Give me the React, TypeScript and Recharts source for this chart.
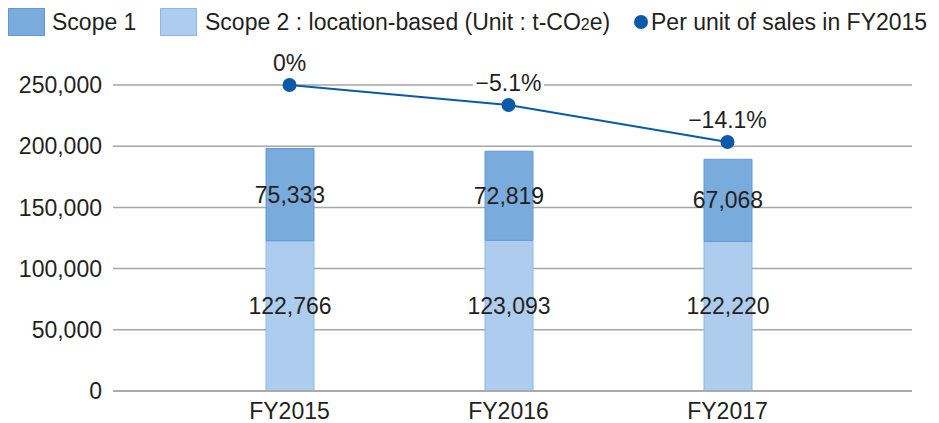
import React from 'react';
import { ComposedChart, Bar, Line, XAxis, YAxis, CartesianGrid, LabelList } from 'recharts';

const categories = ['FY2015', 'FY2016', 'FY2017'];
const scope1 = [75333, 72819, 67068];
const scope2 = [122766, 123093, 122220];
// plotted position of the per-unit line
const perUnit = [250000, 233600, 203400];
const perUnitLabels = ['0%', '−5.1%', '−14.1%'];
const yTicks = [0, 50000, 100000, 150000, 200000, 250000];

const data = categories.map((fy, i) => ({
  fy,
  scope1: scope1[i],
  scope2: scope2[i],
  perUnit: perUnit[i],
}));

const FONT = '"Liberation Sans", Arial, sans-serif';
const TEXT = '#231f20';
const fmt = (v: number) => v.toLocaleString('en-US');

const BarValue = (dy: number) => (props: any) => {
  const { x, y, width, height, value } = props;
  return (
    <text
      x={x + width / 2}
      y={y + height / 2 + dy}
      textAnchor="middle"
      dominantBaseline="central"
      fill={TEXT}
      fontSize={23}
      fontFamily={FONT}
    >
      {fmt(value)}
    </text>
  );
};

const LineValue = (props: any) => {
  const { x, y, index } = props;
  const text = perUnitLabels[index];
  const w = text.length * 13 + 6;
  return (
    <g>
      <rect x={x - w / 2} y={y - 37} width={w} height={28} fill="#fff" />
      <text x={x} y={y - 14} textAnchor="middle" fill={TEXT} fontSize={23} fontFamily={FONT}>
        {text}
      </text>
    </g>
  );
};

const swatch = (color: string, border: string): React.CSSProperties => ({
  position: 'absolute',
  top: 0,
  width: 37,
  height: 28,
  background: color,
  border: `1px solid ${border}`,
  boxSizing: 'border-box',
});

const legendText: React.CSSProperties = {
  position: 'absolute',
  top: 0,
  fontSize: 23,
  lineHeight: '28px',
  color: TEXT,
  fontFamily: FONT,
  whiteSpace: 'nowrap',
};

export default function App() {
  return (
    <div style={{ position: 'relative', width: 925, height: 415, fontFamily: FONT }}>
      <div style={swatch('#7aabdd', '#6598d3')} />
      <div style={{ ...legendText, left: 44 }}>Scope 1</div>
      <div style={{ ...swatch('#aecdee', '#8fb7e3'), left: 152 }} />
      <div style={{ ...legendText, left: 197 }}>
        Scope 2 : location-based (Unit : t-CO<span style={{ fontSize: 16 }}>2</span>e)
      </div>
      <div
        style={{
          position: 'absolute',
          left: 626,
          top: 7,
          width: 14,
          height: 14,
          borderRadius: 7,
          background: '#0b59a9',
        }}
      />
      <div style={{ ...legendText, left: 643 }}>Per unit of sales in FY2015</div>

      <ComposedChart
        width={925}
        height={415}
        data={data}
        margin={{ top: 77, right: 21, bottom: 0, left: 0 }}
      >
        <CartesianGrid vertical={false} stroke="#a6a6a6" strokeWidth={1.5} />
        <XAxis
          dataKey="fy"
          height={32}
          padding={{ left: 67, right: 75 }}
          tickLine={false}
          axisLine={{ stroke: '#a6a6a6', strokeWidth: 1.5 }}
          tickMargin={6}
          tick={{ fill: TEXT, fontSize: 23, fontFamily: FONT }}
        />
        <YAxis
          width={105}
          domain={[0, 250000]}
          ticks={yTicks}
          tickFormatter={fmt}
          tickLine={false}
          axisLine={false}
          tickMargin={5}
          tick={{ fill: TEXT, fontSize: 23, fontFamily: FONT }}
        />
        <Bar dataKey="scope2" stackId="a" barSize={48} fill="#aecdee" stroke="#8fb7e3" isAnimationActive={false}>
          <LabelList dataKey="scope2" content={BarValue(-10)} />
        </Bar>
        <Bar dataKey="scope1" stackId="a" barSize={48} fill="#7aabdd" stroke="#6598d3" isAnimationActive={false}>
          <LabelList dataKey="scope1" content={BarValue(0)} />
        </Bar>
        <Line
          dataKey="perUnit"
          stroke="#0b59a9"
          strokeWidth={2}
          dot={{ r: 7, fill: '#0b59a9', stroke: '#0b59a9', strokeWidth: 0 }}
          isAnimationActive={false}
        >
          <LabelList dataKey="perUnit" content={LineValue} />
        </Line>
      </ComposedChart>
    </div>
  );
}
